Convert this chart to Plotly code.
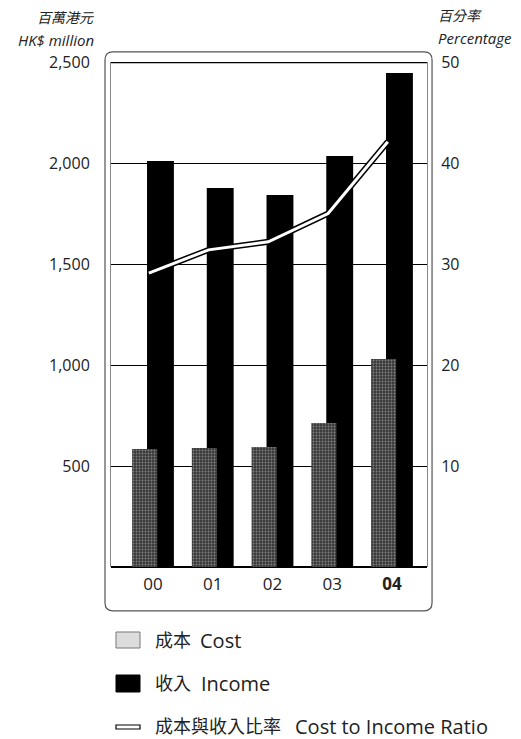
import plotly.graph_objects as go

# Annual figures, HK$ million
years = ["00", "01", "02", "03", "04"]
year_labels = ["00", "01", "02", "03", "<b>04</b>"]
income = [2010, 1876, 1842, 2035, 2446]
cost = [584, 589, 594, 713, 1030]
# Cost to income ratio, %
ratio = [29.1, 31.4, 32.2, 35.0, 42.1]

left_ticks = [500, 1000, 1500, 2000, 2500]
right_ticks = [10, 20, 30, 40, 50]

FONT = "Open Sans, Noto Sans CJK TC, sans-serif"
pos = list(range(len(years)))

fig = go.Figure()

# Income bars (behind)
fig.add_trace(go.Bar(
    x=pos, y=income, offset=-0.10, width=0.45,
    marker=dict(color="#000000", line=dict(width=0)),
    showlegend=False, hoverinfo="skip",
))
# Cost bars (in front, speckled grey)
fig.add_trace(go.Bar(
    x=pos, y=cost, offset=-0.35, width=0.42,
    marker=dict(color="#3a3a3a", line=dict(width=0),
                pattern=dict(shape=".", fgcolor="#c8c8c8", bgcolor="#3a3a3a",
                             size=3, solidity=0.3)),
    showlegend=False, hoverinfo="skip",
))
# Ratio line: black outline with white core, on percentage axis
line_x = [p - 0.07 for p in pos]
fig.add_trace(go.Scatter(
    x=line_x, y=ratio, yaxis="y2", mode="lines",
    line=dict(color="#000000", width=6), showlegend=False, hoverinfo="skip",
))
fig.add_trace(go.Scatter(
    x=line_x, y=ratio, yaxis="y2", mode="lines",
    line=dict(color="#ffffff", width=3), showlegend=False, hoverinfo="skip",
))

fig.update_layout(
    width=521, height=739,
    margin=dict(l=111, r=94, t=62, b=172),
    paper_bgcolor="white", plot_bgcolor="white",
    font=dict(family=FONT, color="#222222"),
    barmode="overlay",
    xaxis=dict(
        range=[-0.703, 4.586], tickvals=pos, ticktext=year_labels,
        showgrid=False, zeroline=False, showline=False, ticks="",
        tickfont=dict(size=17, color="#222222"), ticklabelstandoff=5,
    ),
    yaxis=dict(
        range=[0, 2500], tickvals=left_ticks, tickformat=",",
        showgrid=True, gridcolor="#000000", gridwidth=1,
        zeroline=True, zerolinecolor="#000000", zerolinewidth=1.5,
        showline=True, linecolor="#888888", linewidth=1,
        ticks="", tickfont=dict(size=16, color="#222222"), ticklabelstandoff=17,
    ),
    yaxis2=dict(
        range=[0, 50], tickvals=right_ticks, overlaying="y", side="right",
        showgrid=False, zeroline=False,
        showline=True, linecolor="#888888", linewidth=1,
        ticks="", tickfont=dict(size=16, color="#222222"), ticklabelstandoff=10,
    ),
)

shapes = []
# Heavy top rule at 2,500
shapes.append(dict(type="line", xref="paper", yref="y", x0=0, x1=1, y0=2500, y1=2500,
                   line=dict(color="#000000", width=2.5)))

# Rounded frame around the plot and year labels
x0, x1 = -0.019, 1.016
y0, y1 = -0.087, 1.020
rx, ry = 0.025, 0.016
frame = (f"M {x0+rx},{y1} L {x1-rx},{y1} Q {x1},{y1} {x1},{y1-ry} "
         f"L {x1},{y0+ry} Q {x1},{y0} {x1-rx},{y0} "
         f"L {x0+rx},{y0} Q {x0},{y0} {x0},{y0+ry} "
         f"L {x0},{y1-ry} Q {x0},{y1} {x0+rx},{y1} Z")
shapes.append(dict(type="path", xref="paper", yref="paper", path=frame,
                   line=dict(color="#555555", width=1.2)))

# Legend keys (paper coordinates below the plot)
def px_x(px):
    return (px - 111) / 316

def px_y(py):
    return (567 - py) / 505

shapes.append(dict(type="rect", xref="paper", yref="paper",
                   x0=px_x(116), x1=px_x(140), y0=px_y(648), y1=px_y(632),
                   fillcolor="#dcdcdc", line=dict(color="#777777", width=1)))
shapes.append(dict(type="rect", xref="paper", yref="paper",
                   x0=px_x(116), x1=px_x(140), y0=px_y(692), y1=px_y(675),
                   fillcolor="#000000", line=dict(color="#000000", width=1)))
shapes.append(dict(type="rect", xref="paper", yref="paper",
                   x0=px_x(116), x1=px_x(140), y0=px_y(729), y1=px_y(725),
                   fillcolor="#ffffff", line=dict(color="#000000", width=1.2)))
fig.update_layout(shapes=shapes)

annotations = [
    dict(text="<i>百萬港元</i>", x=px_x(96), y=px_y(18), xanchor="right", yanchor="middle",
         font=dict(size=14)),
    dict(text="<i>HK$ million</i>", x=px_x(96), y=px_y(40), xanchor="right", yanchor="middle",
         font=dict(size=15)),
    dict(text="<i>百分率</i>", x=px_x(436), y=px_y(16), xanchor="left", yanchor="middle",
         font=dict(size=14)),
    dict(text="<i>Percentage</i>", x=px_x(436), y=px_y(38), xanchor="left", yanchor="middle",
         font=dict(size=15)),
    # legend labels: Chinese and English parts
    dict(text="成本", x=px_x(153), y=px_y(640), xanchor="left", yanchor="middle",
         font=dict(size=18)),
    dict(text="Cost", x=px_x(198), y=px_y(640), xanchor="left", yanchor="middle",
         font=dict(size=20)),
    dict(text="收入", x=px_x(153), y=px_y(683), xanchor="left", yanchor="middle",
         font=dict(size=18)),
    dict(text="Income", x=px_x(199), y=px_y(683), xanchor="left", yanchor="middle",
         font=dict(size=20)),
    dict(text="成本與收入比率", x=px_x(153), y=px_y(726), xanchor="left", yanchor="middle",
         font=dict(size=18)),
    dict(text="Cost to Income Ratio", x=px_x(293), y=px_y(726), xanchor="left",
         yanchor="middle", font=dict(size=20)),
]
for a in annotations:
    a.update(xref="paper", yref="paper", showarrow=False)
fig.update_layout(annotations=annotations)

fig.write_html("out.html")
